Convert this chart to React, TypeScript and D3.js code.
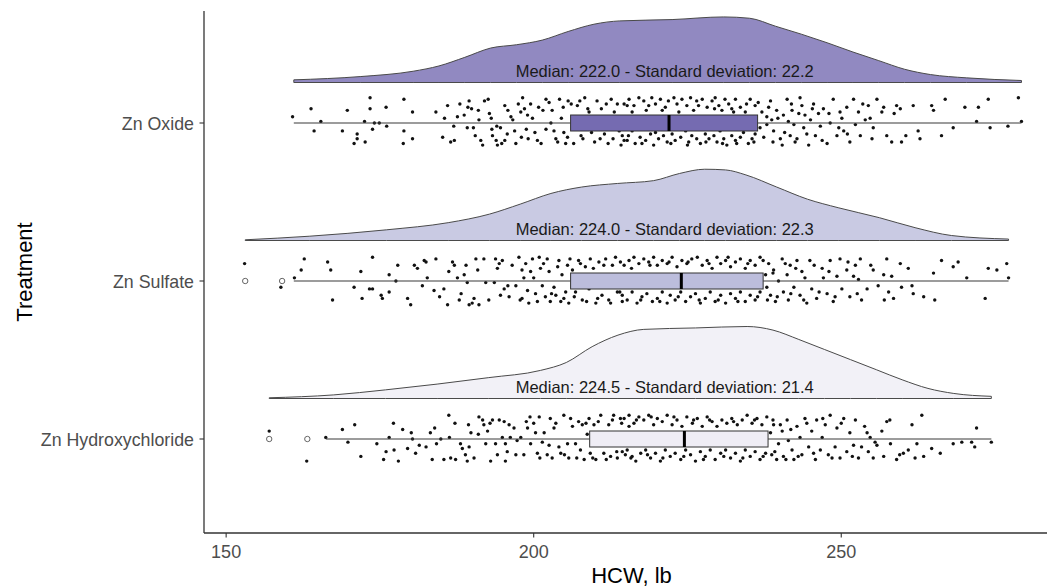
import * as d3 from 'd3';

// treatments, top to bottom
const CATEGORIES = ['Zn Oxide', 'Zn Sulfate', 'Zn Hydroxychloride'];
const FILLS = ['#756bb1', '#bcbddc', '#efedf5'];
const X_TICKS = [150, 200, 250];
const LABELS = [
  'Median: 222.0 - Standard deviation: 22.2',
  'Median: 224.0 - Standard deviation: 22.3',
  'Median: 224.5 - Standard deviation: 21.4',
];
const LABEL_AT = 221.3;

// boxplot stats
const BOX_LOW = [161.0, 161.0, 166.2];
const BOX_Q1 = [206.0, 206.0, 209.1];
const BOX_MED = [222.0, 224.0, 224.5];
const BOX_Q3 = [236.4, 237.3, 238.1];
const BOX_HIGH = [279.3, 277.2, 274.4];
const OUTLIERS = [[], [153.1, 159.1], [157.0, 163.2]];

// half-violin outlines: [HCW, relative density]
const DENS_OXIDE = [
  [161.0, 0.04], [171.9, 0.09], [180.4, 0.17], [184.6, 0.25], [188.8, 0.38], [193.0, 0.52],
  [197.2, 0.57], [201.4, 0.64], [205.6, 0.77], [209.8, 0.88], [214.0, 0.93], [222.5, 0.95],
  [230.9, 0.99], [235.1, 0.97], [239.3, 0.85], [243.5, 0.73], [247.7, 0.6], [251.9, 0.46],
  [256.1, 0.33], [260.3, 0.2], [264.5, 0.12], [270.4, 0.07], [279.3, 0.03],
];
const DENS_SULFATE = [
  [153.1, 0.01], [163.5, 0.06], [176.1, 0.15], [186.1, 0.25], [192.8, 0.37], [197.8, 0.51],
  [202.8, 0.66], [207.8, 0.75], [213.6, 0.8], [219.5, 0.84], [223.7, 0.94], [227.8, 1.0],
  [231.2, 0.99], [234.5, 0.92], [239.5, 0.75], [244.5, 0.58], [249.5, 0.46], [256.2, 0.32],
  [262.0, 0.18], [267.9, 0.07], [277.2, 0.02],
];
const DENS_HYDROXY = [
  [157.0, 0.01], [167.5, 0.05], [175.9, 0.12], [184.3, 0.2], [192.7, 0.29], [201.1, 0.39],
  [205.3, 0.5], [209.5, 0.72], [213.7, 0.88], [217.9, 0.96], [226.3, 0.98], [234.7, 1.0],
  [238.9, 0.95], [243.1, 0.82], [247.3, 0.68], [251.5, 0.54], [255.7, 0.4], [259.9, 0.26],
  [264.1, 0.14], [268.3, 0.07], [274.4, 0.03],
];
const DENS_PEAK = [0.92, 0.99, 1.0];

// raw animals: [HCW, jitter in category steps]
const PTS_OXIDE = [
  [160.8, -0.04], [163.8, -0.09], [165.4, -0.01], [164.3, 0.05], [169.7, -0.08], [168.9, 0.05],
  [173.4, -0.16], [173.4, -0.09], [172.5, -0.01], [174.1, 0], [174.9, 0], [176.0, -0.1],
  [176.1, 0.02], [173.8, 0.04], [171.3, 0.07], [171.3, 0.1], [170.8, 0.13], [172.6, 0.12],
  [178.9, -0.15], [180.3, -0.07], [178.9, 0.05], [180.3, 0.1], [178.8, 0.13], [184.1, -0.07],
  [185.5, -0.03], [186.0, -0.11], [185.2, 0.09], [187.1, 0.11], [187.6, -0.04], [187.0, 0.02],
  [188.7, -0.05], [189.5, -0.14], [189.3, -0.1], [189.9, -0.09], [189.2, 0.03], [190.2, 0.03],
  [191.0, -0.08], [191.1, -0.02], [191.4, 0.11], [191.7, 0.14], [192.0, -0.14], [192.6, -0.15],
  [193.1, -0.03], [193.2, 0.04], [193.3, 0.08], [193.9, 0.11], [194.1, 0.14], [194.8, 0.13],
  [195.3, 0.11], [194.6, 0.03], [195.3, -0.11], [195.8, -0.08], [196.3, -0.04], [196.6, -0.02],
  [196.9, 0.05], [197.1, 0.13], [197.9, -0.07], [198.2, -0.16], [198.5, -0.09], [198.8, 0.04],
  [199.1, 0.1], [199.5, -0.12], [199.8, -0.03], [200.2, 0.06], [200.6, 0.11], [201.5, -0.08],
  [202.0, -0.15], [202.5, -0.13], [202.8, 0], [203.3, 0.05], [203.6, 0.1], [204.2, -0.15],
  [204.5, -0.03], [204.9, 0.06], [205.2, 0.13], [205.6, -0.14], [206.1, -0.12], [207.1, -0.11],
  [207.7, 0.08], [208.3, -0.16], [208.8, -0.09], [209.4, 0.06], [209.9, 0.12], [210.3, -0.14],
  [211.0, -0.09], [211.5, 0.07], [212.1, 0.13], [212.6, -0.15], [213.1, -0.07], [213.9, 0.05],
  [214.7, 0.11], [215.2, -0.11], [215.4, 0.08],
  [214.7, -0.12], [215.5, -0.15], [216.3, -0.11], [217.1, -0.16], [217.9, -0.14], [218.7, -0.11],
  [219.2, -0.16], [219.8, -0.12], [220.6, -0.15], [221.4, -0.1], [221.9, -0.14], [222.8, -0.16],
  [223.3, -0.12], [224.1, -0.15], [224.9, -0.11], [225.5, -0.16], [226.0, -0.08], [226.5, -0.14],
  [227.4, -0.15], [228.2, -0.1], [229.0, -0.14], [229.5, -0.16], [230.1, -0.11], [230.6, -0.08],
  [231.1, -0.15], [231.7, -0.12], [232.2, -0.09], [232.8, -0.15], [233.6, -0.1], [234.4, -0.07],
  [235.2, -0.15], [236.0, -0.11],
  [214.4, 0.08], [215.2, 0.11], [216.0, 0.05], [216.5, 0.13], [217.3, 0.09], [218.2, 0.11],
  [219.0, 0.07], [219.5, 0.14], [220.3, 0.1], [221.1, 0.08], [221.7, 0.12], [222.5, 0.07],
  [223.0, 0.11], [223.9, 0.09], [224.7, 0.05], [225.2, 0.12], [225.7, 0.08], [226.5, 0.1],
  [227.1, 0.13], [227.9, 0.07], [228.5, 0.1], [229.3, 0.08], [229.8, 0.12], [230.3, 0.05],
  [230.9, 0.1], [231.4, 0.14], [232.2, 0.08], [232.8, 0.11], [233.6, 0.09], [234.1, 0.06],
  [234.9, 0.13], [235.5, 0.1], [236.0, 0.07],
  [236.8, 0.03], [237.1, -0.07], [237.9, 0.01], [237.9, -0.04], [238.5, -0.14], [238.7, -0.02],
  [239.0, 0.05], [239.5, -0.08], [240.1, 0.1], [240.4, 0.14], [240.6, -0.05], [241.2, -0.15],
  [241.4, -0.01], [241.7, 0.08], [242.0, -0.08], [242.3, 0.01], [242.5, 0.12], [243.3, -0.16],
  [243.6, -0.11], [243.9, 0.03], [244.1, -0.05], [244.7, 0.14], [245.0, -0.02], [245.5, -0.12],
  [245.8, 0.08], [246.3, -0.06], [246.6, 0.02], [247.1, -0.09], [247.7, 0.13], [248.2, 0],
  [248.7, -0.15], [249.3, 0.08], [249.8, -0.07], [250.1, -0.03], [250.4, 0.05], [250.9, -0.1],
  [251.4, 0.12], [252.0, -0.15], [252.3, 0.01], [252.8, -0.07], [253.1, 0.08], [253.9, -0.02],
  [254.4, -0.11], [254.7, -0.03], [255.2, 0.03], [255.8, -0.15], [256.6, -0.07], [256.9, -0.1],
  [257.4, 0.08], [258.2, 0.12], [259.0, -0.11], [259.6, -0.09], [259.8, 0.12], [261.7, -0.11],
  [262.5, 0.05], [262.8, 0.1], [264.7, -0.11], [265.0, -0.08], [266.3, 0.08], [266.9, -0.15],
  [268.2, 0.03], [270.1, -0.1], [272.0, -0.01], [272.3, -0.1], [273.9, -0.15], [274.2, 0.03],
  [277.1, 0.02], [278.8, -0.16], [279.3, -0.01],
  [186.5, 0.12], [188.0, -0.12], [190.5, 0.08], [192.8, -0.06], [194.0, 0.02], [195.7, 0.07],
  [197.5, -0.12], [198.0, 0.09], [199.0, -0.05], [200.8, -0.1], [201.2, 0.13], [202.0, 0.04],
  [203.0, -0.08], [203.9, 0.12], [204.8, -0.1], [205.5, 0.09], [206.5, 0.13], [207.5, -0.14],
  [208.0, 0.1], [209.0, -0.07], [210.8, 0.1], [211.8, -0.12], [212.9, 0.1], [213.6, -0.12],
  [214.2, 0.14], [216.0, -0.07], [217.6, 0.13], [218.3, -0.08], [219.8, 0.06], [220.9, -0.08],
  [222.3, 0.13], [223.6, -0.07], [225.0, 0.14], [226.8, -0.11], [228.0, 0.12], [229.4, -0.09],
  [230.7, 0.13], [232.5, -0.07], [233.0, 0.13], [234.6, -0.12], [235.8, 0.12], [236.5, -0.13],
  [237.4, 0.09], [238.2, -0.1], [238.9, 0.12], [239.7, -0.03], [240.8, 0.06], [241.9, -0.12],
  [242.8, 0.1], [243.1, -0.06], [244.4, 0.07], [245.3, -0.09], [246.9, 0.11], [248.0, -0.06],
  [249.6, 0.03], [251.0, 0.07], [253.5, -0.12], [255.0, 0.1], [258.6, -0.06], [260.5, 0.08],
];

const PTS_SULFATE = [
  [153.0, -0.11], [158.9, 0.04], [161.1, -0.02], [162.2, -0.07], [162.7, -0.14], [166.5, -0.12],
  [167.0, -0.07], [167.3, 0.12], [170.8, 0.04], [171.9, -0.06], [172.1, 0.11], [173.3, 0.05],
  [173.8, 0.05], [173.8, -0.15], [175.2, 0.09], [175.4, 0.11], [176.5, -0.04], [176.5, 0.07],
  [177.6, 0], [177.9, -0.1], [179.5, 0.11], [180.0, 0.15], [180.6, -0.1], [181.1, -0.08],
  [181.9, 0.03], [182.2, -0.13], [182.7, -0.02], [182.5, -0.12], [184.1, -0.14], [183.8, 0.06],
  [185.4, 0.05], [186.0, 0.15], [186.2, -0.06], [187.1, -0.1], [187.6, -0.02], [187.9, 0.12],
  [188.7, -0.04], [189.0, -0.1], [189.2, 0.01], [189.5, 0.15], [190.0, 0.14], [190.3, 0.11],
  [190.6, -0.14], [191.1, 0.15], [191.9, -0.14], [192.2, 0.01], [193.8, -0.14], [194.1, -0.08],
  [194.4, -0.11], [193.6, 0.01], [194.6, 0.09], [195.2, 0.05], [196.0, 0.1], [197.1, 0.03],
  [197.6, -0.15], [198.1, -0.07], [198.4, -0.02], [198.1, 0.11], [198.7, -0.11], [199.0, 0.06],
  [199.2, 0.14], [199.8, -0.14], [200.0, -0.02], [200.3, 0.08], [200.9, -0.15], [201.1, -0.08],
  [201.4, 0.03], [201.9, 0.1], [202.2, -0.14], [202.5, -0.06], [202.7, 0.13], [203.3, 0.04],
  [203.6, 0.09], [204.1, -0.13], [204.4, 0.13], [204.6, -0.04], [205.2, 0.07], [205.5, -0.1],
  [205.7, 0.14], [206.3, -0.07], [206.8, 0.07], [207.3, -0.13], [207.9, 0.12], [208.4, -0.09],
  [209.0, 0.05], [209.2, -0.14], [210.1, 0.14], [210.6, -0.12], [211.1, 0.09], [211.7, -0.14],
  [212.2, 0.12], [212.8, -0.1], [213.6, 0.07], [214.1, -0.12], [214.4, 0.13],
  [214.7, -0.1], [215.5, -0.13], [216.3, -0.15], [217.1, -0.11], [217.9, -0.14], [218.7, -0.12],
  [219.5, -0.15], [220.1, -0.1], [220.9, -0.13], [221.7, -0.11], [222.5, -0.15], [223.3, -0.09],
  [224.1, -0.13], [224.9, -0.11], [225.7, -0.14], [226.6, -0.15], [227.4, -0.1], [228.2, -0.13],
  [229.0, -0.08], [229.8, -0.15], [230.4, -0.11], [231.2, -0.13], [232.0, -0.09], [232.8, -0.12],
  [233.6, -0.14], [234.4, -0.08], [235.2, -0.13], [236.0, -0.1], [236.8, -0.15],
  [214.4, 0.09], [215.2, 0.12], [216.0, 0.07], [216.8, 0.14], [217.6, 0.1], [218.4, 0.08],
  [219.3, 0.13], [220.1, 0.11], [220.9, 0.07], [221.7, 0.14], [222.2, 0.09], [223.0, 0.12],
  [223.9, 0.07], [224.7, 0.13], [225.5, 0.1], [226.3, 0.08], [227.1, 0.14], [227.9, 0.11],
  [228.7, 0.07], [229.5, 0.13], [230.4, 0.09], [231.2, 0.14], [232.0, 0.08], [232.8, 0.11],
  [233.6, 0.07], [234.4, 0.13], [235.2, 0.09], [236.0, 0.12], [236.8, 0.07],
  [237.7, -0.04], [237.9, 0.04], [238.2, -0.11], [238.5, 0.09], [239.0, -0.07], [239.3, 0.13],
  [239.8, 0], [240.4, -0.14], [240.6, 0.07], [241.2, -0.04], [241.4, 0.12], [241.7, -0.1],
  [242.3, 0.04], [242.8, -0.13], [243.3, 0.09], [243.6, -0.06], [244.1, -0.02], [244.4, 0.14],
  [244.9, -0.13], [245.2, 0.05], [246.0, 0.11], [246.9, -0.08], [247.1, -0.02], [247.7, 0.08],
  [248.2, -0.13], [248.7, 0.13], [249.3, -0.03], [249.8, -0.14], [250.1, 0.05], [250.9, -0.07],
  [251.4, 0.1], [252.0, -0.03], [252.3, -0.1], [252.8, -0.01], [253.1, -0.14], [253.3, 0.12],
  [254.2, 0.05], [255.2, -0.07], [256.0, 0.03], [256.9, -0.04], [257.4, -0.14], [257.7, 0.07],
  [258.2, -0.03], [258.5, 0.11], [259.6, -0.11], [259.8, 0.04], [260.9, -0.08], [261.5, 0.03],
  [261.7, 0.08], [263.4, 0.1], [265.0, -0.05], [265.2, 0.12], [266.3, -0.13], [268.2, -0.09],
  [269.0, -0.12], [270.4, -0.02], [273.4, 0.11], [273.9, -0.08], [275.3, -0.07], [276.9, -0.11],
  [277.2, -0.02],
  [184.7, 0.1], [186.8, -0.12], [188.2, 0.08], [190.9, -0.07], [192.7, 0.12], [194.9, -0.13],
  [195.8, 0.03], [196.5, -0.1], [197.8, 0.12], [199.5, -0.06], [200.6, 0.13], [201.6, -0.11],
  [202.9, 0.08], [203.9, -0.09], [204.9, 0.11], [205.9, -0.14], [206.6, 0.1], [207.6, -0.11],
  [208.6, 0.13], [209.7, -0.08], [210.4, 0.11], [211.4, -0.1], [212.5, 0.14], [213.3, -0.15],
  [214.0, 0.07], [215.9, -0.08], [217.4, 0.12], [218.9, -0.1], [220.5, 0.13], [222.0, -0.12],
  [223.5, 0.1], [225.1, -0.12], [226.9, 0.12], [228.5, -0.11], [230.0, 0.12], [231.6, -0.15],
  [233.2, 0.13], [234.8, -0.11], [236.4, 0.1], [237.3, -0.13], [238.0, 0.12], [238.9, -0.05],
  [239.6, 0.1], [240.9, -0.11], [241.8, 0.08], [242.6, -0.08], [243.9, 0.12], [245.6, -0.1],
  [246.4, 0.07], [248.0, -0.06], [249.0, 0.1], [251.1, -0.12], [252.6, 0.08], [254.8, -0.1],
  [257.0, 0.12],
];

const PTS_HYDROXY = [
  [157.0, -0.05], [163.1, 0.14], [166.2, -0.01], [168.9, -0.06], [169.8, 0.02], [170.9, -0.09],
  [171.9, 0.11], [174.5, 0.03], [175.6, 0.13], [176.0, 0.08], [176.5, -0.01], [177.2, -0.1],
  [177.3, 0.07], [178.0, 0.14], [178.7, -0.06], [179.5, 0.06], [180.1, -0.04], [180.3, 0],
  [180.8, 0.09], [181.4, 0.04], [182.5, 0.05], [183.2, -0.04], [183.5, 0.13], [183.9, -0.07],
  [184.2, 0.03], [184.9, 0], [185.4, 0.13], [186.2, -0.15], [186.3, -0.01], [186.5, 0.12],
  [187.2, -0.1], [187.3, 0.13], [188.1, 0.03], [188.4, 0.06], [188.9, 0.1], [189.2, 0.14],
  [189.4, -0.09], [189.8, -0.04], [189.5, 0.05], [191.0, -0.03], [191.1, -0.14], [191.7, -0.12],
  [191.9, -0.09], [192.2, 0.03], [192.5, -0.05], [193.0, 0.14], [193.3, -0.12], [193.8, 0.03],
  [194.1, 0.1], [194.4, -0.12], [194.9, -0.01], [195.2, -0.11], [195.4, 0.03], [195.4, 0.14],
  [196.0, -0.09], [196.2, -0.01], [196.8, -0.07], [197.1, 0.1], [197.3, 0.01], [197.9, -0.01],
  [198.4, 0.1], [199.0, -0.07], [199.4, -0.14], [199.5, 0.03], [200.0, -0.1], [200.3, -0.04],
  [200.6, 0.09], [200.9, -0.14], [201.4, 0.02], [201.7, -0.04], [202.2, 0.1], [202.5, 0.04],
  [202.7, -0.13], [203.0, 0.12], [203.6, -0.1], [204.1, 0.05], [204.4, 0.09], [204.9, -0.15],
  [205.5, 0.03], [205.7, 0.12], [206.3, -0.08], [206.8, 0.03], [207.3, -0.11], [207.6, 0.07],
  [207.9, -0.09], [208.2, 0.13], [208.7, -0.03], [209.0, -0.13], [209.2, 0.09], [209.8, -0.09],
  [210.1, 0.13], [210.9, -0.15], [211.4, 0.09], [212.2, -0.09], [212.5, 0.11], [213.0, -0.15],
  [213.6, 0.12], [214.1, -0.13], [214.9, 0.1], [215.5, -0.08],
  [214.7, -0.13], [215.5, -0.15], [216.3, -0.1], [217.1, -0.14], [217.9, -0.12], [218.7, -0.15],
  [219.5, -0.09], [220.1, -0.13], [220.9, -0.11], [221.7, -0.15], [222.5, -0.09], [223.3, -0.12],
  [224.1, -0.08], [224.9, -0.14], [225.8, -0.1], [226.6, -0.13], [227.4, -0.08], [228.2, -0.14],
  [229.0, -0.11], [229.8, -0.08], [230.6, -0.12], [231.4, -0.1], [232.2, -0.13], [233.1, -0.09],
  [233.9, -0.12], [234.7, -0.15], [235.5, -0.1], [236.3, -0.13], [237.1, -0.09], [237.9, -0.14],
  [214.4, 0.08], [215.2, 0.07], [216.0, 0.11], [216.6, 0.14], [217.4, 0.09], [218.2, 0.07],
  [219.0, 0.12], [219.8, 0.09], [220.6, 0.14], [221.4, 0.07], [222.2, 0.11], [223.0, 0.09],
  [223.9, 0.13], [224.7, 0.07], [225.5, 0.1], [226.3, 0.14], [227.1, 0.08], [227.9, 0.11],
  [228.7, 0.07], [229.5, 0.13], [230.4, 0.09], [231.2, 0.07], [232.0, 0.12], [232.8, 0.09],
  [233.6, 0.14], [234.4, 0.07], [235.2, 0.11], [236.0, 0.08], [236.8, 0.13], [237.7, 0.09],
  [238.5, -0.04], [238.7, 0.1], [239.0, -0.09], [239.5, 0.13], [239.8, 0.03], [240.4, -0.05],
  [240.6, 0.11], [241.2, -0.12], [241.4, 0.01], [242.0, 0.07], [242.3, 0.13], [242.8, -0.08],
  [243.3, -0.01], [243.6, 0.1], [244.1, -0.13], [244.7, 0.05], [245.2, -0.05], [245.8, 0.13],
  [246.0, -0.12], [246.6, 0.07], [246.9, -0.01], [247.4, -0.09], [247.9, 0.1], [248.2, -0.15],
  [249.0, 0.05], [249.3, -0.07], [249.8, 0.12], [250.4, -0.13], [250.9, 0.08], [251.4, -0.04],
  [252.0, 0.04], [252.3, -0.12], [252.8, 0.12], [253.3, 0.05], [254.2, -0.04], [254.4, 0.08],
  [254.7, -0.01], [255.5, 0.02], [255.8, 0.04], [256.6, -0.05], [256.9, 0.11], [257.4, -0.11],
  [258.0, 0.03], [259.0, 0.13], [260.1, 0.09], [260.9, 0.07], [261.5, -0.09], [262.3, 0.03],
  [263.1, -0.15], [263.4, 0.11], [264.7, 0.06], [266.1, 0.09], [268.2, 0.03], [269.6, 0.02],
  [271.2, 0.02], [271.7, 0.05], [272.0, -0.07], [274.4, 0.02],
  [190.3, 0.12], [192.9, -0.1], [195.7, 0.08], [198.8, -0.11], [201.0, 0.12], [203.3, -0.07],
  [205.0, 0.1], [206.0, -0.13], [207.0, 0.12], [208.5, -0.1], [209.6, 0.12], [210.5, -0.11],
  [211.8, 0.13], [212.8, -0.12], [213.5, 0.08], [214.3, -0.1], [215.8, 0.12], [216.7, -0.12],
  [218.5, 0.1], [219.1, -0.14], [221.0, 0.12], [222.8, -0.14], [224.4, 0.11], [226.0, -0.12],
  [227.6, 0.13], [228.6, -0.12], [230.9, 0.11], [232.5, -0.11], [234.0, 0.12], [235.9, -0.12],
  [237.3, 0.11], [238.9, -0.12], [239.2, 0.08], [240.1, -0.09], [241.0, 0.13], [241.8, -0.06],
  [243.0, 0.11], [244.4, -0.1], [245.5, 0.09], [247.0, -0.13], [248.5, 0.12], [250.0, -0.1],
  [251.8, 0.11], [253.8, -0.08], [255.2, 0.12], [257.9, -0.12], [259.5, 0.1], [262.0, 0.12],
];

const POINTS = [PTS_OXIDE, PTS_SULFATE, PTS_HYDROXY];
const DENSITIES = [DENS_OXIDE, DENS_SULFATE, DENS_HYDROXY];

const FONT = '"Liberation Sans", Arial, sans-serif';

export default function App() {
  const W = 1047;
  const H = 588;
  const axisY = 533;
  const axisX = 204;
  const panelTop = 11;

  const x = d3.scaleLinear().domain([146.4, 285.4]).range([axisX, 1059]);
  const y = d3.scalePoint<string>().domain(CATEGORIES).range([123, 439]);
  const step = y.step();
  const dens = d3.scaleLinear().domain([0, 1]).range([0, 72]);

  const boxHalf = 8;
  const densOffset = 40.5;

  return (
    <div style={{ position: 'absolute', left: 0, top: 0 }}>
      <svg width={W} height={H} style={{ display: 'block', background: '#fff' }}>
        {CATEGORIES.map((cat, i) => {
          const cy = y(cat) as number;
          const base = cy - densOffset;
          const area = d3.area<number[]>()
            .x(d => x(d[0]))
            .y0(base)
            .y1(d => base - dens(d[1] * DENS_PEAK[i]))
            .curve(d3.curveMonotoneX);
          return (
            <g key={cat}>
              <path d={area(DENSITIES[i]) as string} fill={FILLS[i]} fillOpacity={0.8}
                stroke="#4a4a4a" strokeWidth={1} />
              <text x={x(LABEL_AT)} y={cy - 46} textAnchor="middle" fontFamily={FONT}
                fontSize={16.5} fill="#1a1a1a">{LABELS[i]}</text>
              {POINTS[i].map((p, k) => (
                <circle key={k} cx={x(p[0])} cy={cy + p[1] * step} r={1.7} fill="#111" />
              ))}
              <line x1={x(BOX_LOW[i])} x2={x(BOX_Q1[i])} y1={cy} y2={cy} stroke="#3a3a3a" strokeWidth={1.2} />
              <line x1={x(BOX_Q3[i])} x2={x(BOX_HIGH[i])} y1={cy} y2={cy} stroke="#3a3a3a" strokeWidth={1.2} />
              <rect x={x(BOX_Q1[i])} y={cy - boxHalf} width={x(BOX_Q3[i]) - x(BOX_Q1[i])}
                height={boxHalf * 2} fill={FILLS[i]} stroke="#333" strokeWidth={1} />
              <line x1={x(BOX_MED[i])} x2={x(BOX_MED[i])} y1={cy - boxHalf} y2={cy + boxHalf}
                stroke="#000" strokeWidth={3} />
              {OUTLIERS[i].map((o, k) => (
                <circle key={k} cx={x(o)} cy={cy} r={2.7} fill="#fff" stroke="#666" strokeWidth={1} />
              ))}
            </g>
          );
        })}

        {/* axes */}
        <line x1={axisX} x2={axisX} y1={panelTop} y2={axisY} stroke="#333" strokeWidth={1.3} />
        <line x1={axisX} x2={1059} y1={axisY} y2={axisY} stroke="#333" strokeWidth={1.3} />
        {X_TICKS.map(t => (
          <g key={t}>
            <line x1={x(t)} x2={x(t)} y1={axisY} y2={axisY + 4.5} stroke="#333" strokeWidth={1.1} />
            <text x={x(t)} y={558} textAnchor="middle" fontFamily={FONT} fontSize={18} fill="#4d4d4d">{t}</text>
          </g>
        ))}
        {CATEGORIES.map(cat => (
          <g key={cat}>
            <line x1={axisX - 4.5} x2={axisX} y1={y(cat)} y2={y(cat)} stroke="#333" strokeWidth={1.1} />
            <text x={axisX - 10} y={(y(cat) as number) + 6.5} textAnchor="end" fontFamily={FONT}
              fontSize={17.8} fill="#4d4d4d">{cat}</text>
          </g>
        ))}
        <text x={631.5} y={583} textAnchor="middle" fontFamily={FONT} fontSize={22} fill="#000">HCW, lb</text>
        <text transform={`translate(32,${(panelTop + axisY) / 2}) rotate(-90)`} textAnchor="middle"
          fontFamily={FONT} fontSize={22} fill="#000">Treatment</text>
      </svg>
    </div>
  );
}
